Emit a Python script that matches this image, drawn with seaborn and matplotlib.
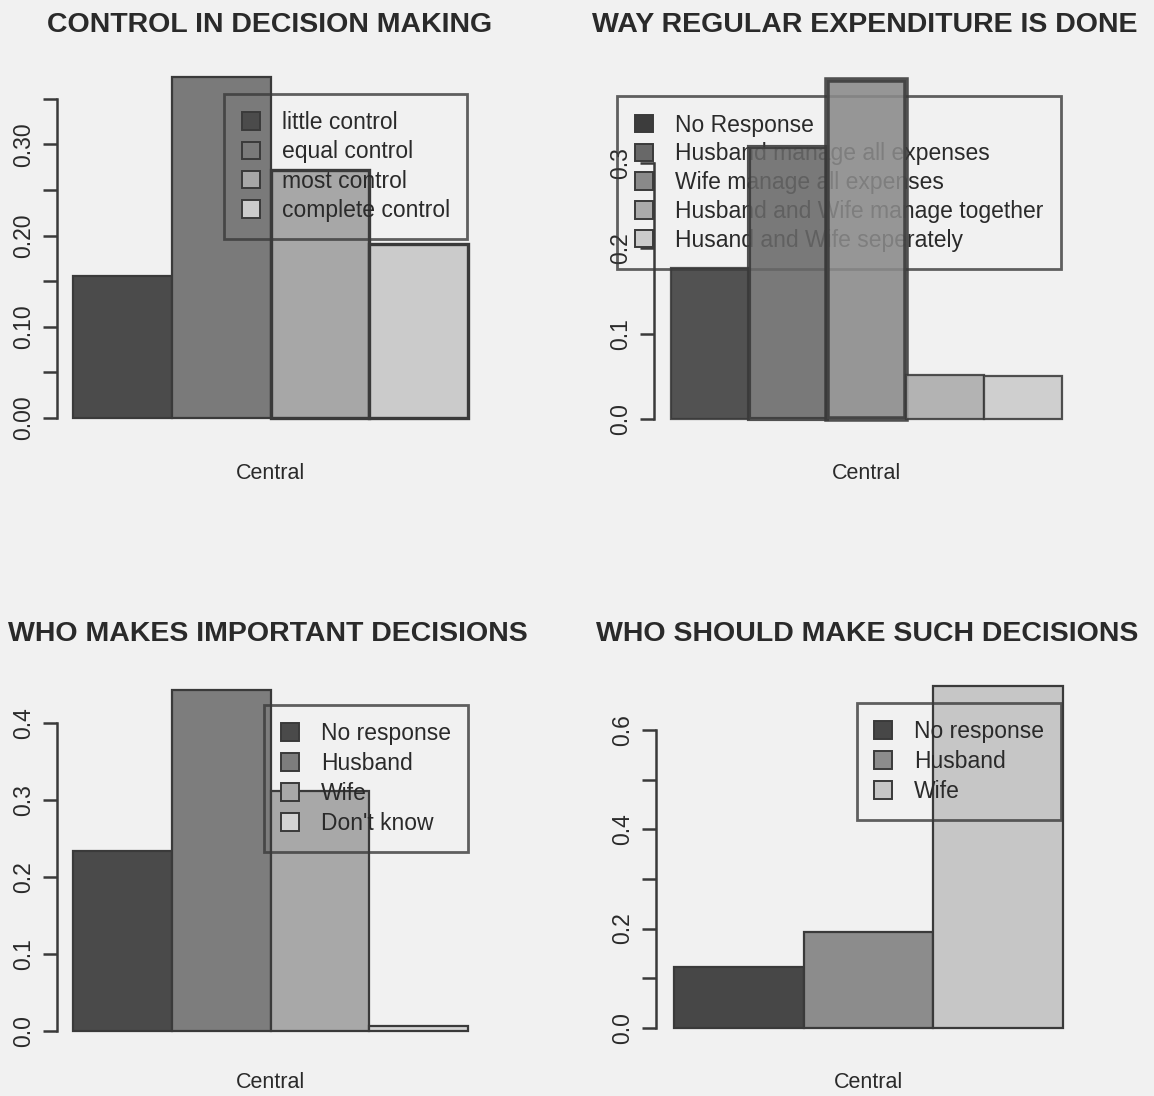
import matplotlib
matplotlib.use("Agg")
import matplotlib.pyplot as plt
from matplotlib.patches import Patch
from matplotlib.ticker import FixedLocator, FixedFormatter
import seaborn as sns
import pandas as pd

# ---- data -------------------------------------------------------------
region = "Central"

control_levels = ["little control", "equal control", "most control", "complete control"]
control_share = [0.156, 0.374, 0.272, 0.191]

expense_ways = ["No Response", "Husband manage all expenses", "Wife manage all expenses",
                "Husband and Wife manage together", "Husand and Wife seperately"]
expense_share = [0.177, 0.319, 0.397, 0.052, 0.050]

decider_groups = ["No response", "Husband", "Wife", "Don't know"]
decider_share = [0.234, 0.443, 0.312, 0.006]

should_groups = ["No response", "Husband", "Wife"]
should_share = [0.122, 0.193, 0.689]

# ---- style ------------------------------------------------------------
sns.set_theme(style="white")
plt.rcParams["font.family"] = ["Liberation Sans", "DejaVu Sans"]

W, H = 1154, 1096
BG = "#f1f1f1"
INK = "#2a2a2a"
EDGE = "#3a3a3a"

fig = plt.figure(figsize=(W / 100, H / 100), dpi=100, facecolor=BG)


def place(ax, bar_left, bar_right, axis_x, zero_y, ppu, ylo, yhi):
    """Position an axes in pixel terms: bars span data x in [-0.5, 0.5]."""
    ppx = bar_right - bar_left
    pad = (bar_left - axis_x) / ppx
    left_px, right_px = axis_x, bar_right + (bar_left - axis_x)
    top_px, bottom_px = zero_y - yhi * ppu, zero_y - ylo * ppu
    ax.set_position([left_px / W, 1 - bottom_px / H,
                     (right_px - left_px) / W, (bottom_px - top_px) / H])
    ax.set_xlim(-0.5 - pad, 0.5 + pad)
    ax.set_ylim(ylo, yhi)
    return bottom_px


def panel(cats, vals, colors, title, title_xy, geom, ticks, labels,
          legend_anchor, legend_kw, label_y, edge_widths=None, bars_over_legend=False):
    ax = fig.add_axes([0, 0, 1, 1])
    ax.set_facecolor("none")
    df = pd.DataFrame({"region": [region] * len(cats), "category": cats, "share": vals})
    sns.barplot(data=df, x="region", y="share", hue="category", hue_order=cats,
                palette=colors, width=1.0, gap=0, dodge=True, legend=False,
                edgecolor=EDGE, linewidth=1.6, saturation=1, ax=ax)
    if edge_widths is not None:
        for p, lw in zip(ax.patches, edge_widths):
            p.set_linewidth(lw)
    bottom_px = place(ax, *geom)

    # R-style y axis: line only across the tick range, rotated labels
    for s in ["top", "right", "bottom"]:
        ax.spines[s].set_visible(False)
    ax.spines["left"].set_bounds(ticks[0], ticks[-1])
    ax.spines["left"].set_color(EDGE)
    ax.spines["left"].set_linewidth(1.8)
    ax.yaxis.set_major_locator(FixedLocator(ticks))
    ax.yaxis.set_major_formatter(FixedFormatter(labels))
    ax.tick_params(axis="y", direction="out", length=10, width=1.8, color=EDGE,
                   labelsize=16.5, labelcolor=INK, pad=6, left=True)
    for t in ax.get_yticklabels():
        t.set_rotation(90)
        t.set_va("center")
        t.set_ha("right")

    # category label under the bar group
    ax.tick_params(axis="x", length=0, labelsize=15.5, labelcolor=INK,
                   pad=(label_y - 11 - bottom_px) * 0.72)
    ax.set_xlabel("")
    ax.set_ylabel("")

    handles = [Patch(facecolor=c, edgecolor=EDGE, linewidth=1.4) for c in colors]
    leg = ax.legend(handles, cats, loc="upper right",
                    bbox_to_anchor=(legend_anchor[0] / W, 1 - legend_anchor[1] / H),
                    bbox_transform=fig.transFigure, frameon=True, fancybox=False,
                    facecolor="none", edgecolor=EDGE, fontsize=16.5,
                    borderaxespad=0, handletextpad=0.95, handlelength=0.8,
                    handleheight=0.8, **legend_kw)
    leg.get_frame().set_linewidth(2.0)
    for t in leg.get_texts():
        t.set_color(INK)
    if bars_over_legend:
        leg.set_zorder(1)
        for p in ax.patches:
            p.set_zorder(3)
            p.set_alpha(0.88)

    fig.text(title_xy[0] / W, 1 - title_xy[1] / H, title, ha="center", va="center",
             fontsize=20.5, fontweight="bold", color=INK)
    return ax


# top-left
panel(control_levels, control_share,
      ["#4b4b4b", "#7a7a7a", "#a7a7a7", "#cbcbcb"],
      "CONTROL IN DECISION MAKING", (270, 25),
      (73, 468, 57, 418, 912, -0.016, 0.39),
      [0, 0.05, 0.10, 0.15, 0.20, 0.25, 0.30, 0.35],
      ["0.00", "", "0.10", "", "0.20", "", "0.30", ""],
      (467, 94), dict(labelspacing=0.27, borderpad=0.75), 474,
      edge_widths=[1.6, 1.6, 2.4, 2.4])

# top-right
panel(expense_ways, expense_share,
      ["#3c3c3c", "#686868", "#8a8a8a", "#ababab", "#cbcbcb"],
      "WAY REGULAR EXPENDITURE IS DONE", (865, 25),
      (671, 1062, 654, 419, 853, -0.017, 0.43),
      [0, 0.1, 0.2, 0.3], ["0.0", "0.1", "0.2", "0.3"],
      (1061, 96), dict(labelspacing=0.25, borderpad=0.77), 474,
      edge_widths=[1.6, 3.0, 4.0, 1.6, 1.6], bars_over_legend=True)

# bottom-left
panel(decider_groups, decider_share,
      ["#4a4a4a", "#7d7d7d", "#a8a8a8", "#d4d4d4"],
      "WHO MAKES IMPORTANT DECISIONS", (268, 634),
      (73, 468, 57, 1031, 770, -0.02, 0.47),
      [0, 0.1, 0.2, 0.3, 0.4], ["0.0", "0.1", "0.2", "0.3", "0.4"],
      (468, 705), dict(labelspacing=0.3, borderpad=0.75), 1083)

# bottom-right
panel(should_groups, should_share,
      ["#474747", "#8c8c8c", "#c6c6c6"],
      "WHO SHOULD MAKE SUCH DECISIONS", (867, 634),
      (674, 1063, 656, 1028, 497, -0.03, 0.72),
      [0, 0.1, 0.2, 0.3, 0.4, 0.5, 0.6], ["0.0", "", "0.2", "", "0.4", "", "0.6"],
      (1061, 703), dict(labelspacing=0.3, borderpad=0.75), 1083)

fig.savefig("out.png", dpi=100, facecolor=BG)
